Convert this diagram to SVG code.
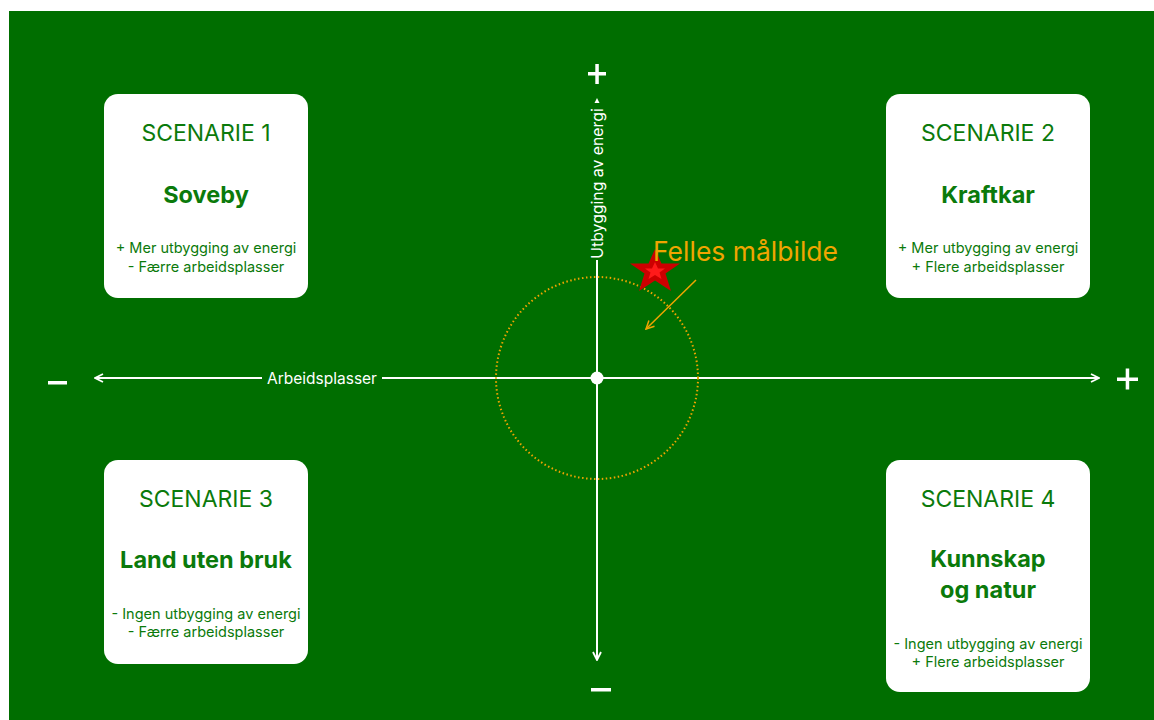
<svg xmlns="http://www.w3.org/2000/svg" width="1154" height="720" viewBox="0 0 1154 720">
<defs>
<style>
.box{fill:#ffffff;}
.t1{font-family:Inter,"Liberation Sans",sans-serif;font-size:23px;fill:#0b7a0b;text-anchor:middle;}
.t2{font-family:Inter,"Liberation Sans",sans-serif;font-size:23.5px;font-weight:bold;fill:#0b7a0b;text-anchor:middle;}
.t3{font-family:Inter,"Liberation Sans",sans-serif;font-size:14.5px;fill:#0b7a0b;text-anchor:middle;}
.ax{stroke:#ffffff;stroke-width:2;fill:none;}
.sign{fill:#ffffff;}
.lbl{font-family:Inter,"Liberation Sans",sans-serif;font-size:15.5px;fill:#ffffff;}
</style>
<marker id="ah" viewBox="0 0 10 10" refX="9" refY="5" markerWidth="10" markerHeight="10" markerUnits="userSpaceOnUse" orient="auto">
<path d="M1,1 L9,5 L1,9" fill="none" stroke="#ffffff" stroke-width="1.8"/>
</marker>
<marker id="oh" viewBox="0 0 10 10" refX="9" refY="5" markerWidth="10" markerHeight="10" markerUnits="userSpaceOnUse" orient="auto">
<path d="M1,1 L9,5 L1,9" fill="none" stroke="#f0a500" stroke-width="1.5"/>
</marker>
</defs>
<rect x="0" y="0" width="1154" height="720" fill="#ffffff"/>
<rect x="9" y="11" width="1145" height="709" fill="#006e00"/>

<g id="connectors">
<line class="ax" x1="380" y1="378" x2="95" y2="378" marker-end="url(#ah)"/>
<line class="ax" x1="381" y1="378" x2="1099" y2="378" marker-end="url(#ah)"/>
<line class="ax" x1="597" y1="260" x2="597" y2="660" marker-end="url(#ah)"/>
<path d="M597,98 L599.5,103 L594.5,103 Z" fill="#ffffff"/>
<circle cx="597" cy="378" r="101" fill="none" stroke="#f0a500" stroke-width="2" stroke-dasharray="1.5,2.5"/>
<line x1="696" y1="280" x2="646" y2="329" stroke="#f0a500" stroke-width="1.5" marker-end="url(#oh)"/>
</g>

<g id="axis-labels">
<rect x="262" y="368" width="120" height="20" fill="#006e00"/>
<text class="lbl" x="322" y="383.5" text-anchor="middle">Arbeidsplasser</text>
<text class="lbl" transform="translate(603,183.5) rotate(-90)" text-anchor="middle" style="font-size:15.8px">Utbygging av energi</text>
<rect x="588" y="72" width="18" height="3.5" class="sign"/>
<rect x="595.3" y="64" width="3.5" height="20" class="sign"/>
<rect x="591" y="688" width="20" height="3.5" class="sign"/>
<rect x="48" y="381" width="19" height="3.5" class="sign"/>
<rect x="1117" y="377.5" width="21" height="3.5" class="sign"/>
<rect x="1125.7" y="368.5" width="3.5" height="21" class="sign"/>
<circle cx="597" cy="378" r="6.5" fill="#ffffff"/>
</g>

<g id="target">
<polygon points="655,249 661.5,263.5 680,263.5 665.5,273.5 671,291 655,280.5 639,291 644.5,273.5 630,263.5 648.5,263.5" fill="#cc0000"/>
<polygon points="655,262 658,268.5 665,268.5 659.5,272.5 661.5,279 655,275 648.5,279 650.5,272.5 645,268.5 652,268.5" fill="#ff1a1a"/>
<text x="653" y="261" font-family="Inter,'Liberation Sans',sans-serif" font-size="26.5" fill="#f0a500">Felles målbilde</text>
</g>

<g id="scenario1">
<rect class="box" x="104" y="94" width="204" height="204" rx="14"/>
<text class="t1" x="206" y="141">SCENARIE 1</text>
<text class="t2" x="206" y="203">Soveby</text>
<text class="t3" x="206" y="253">+ Mer utbygging av energi</text>
<text class="t3" x="206" y="272">- Færre arbeidsplasser</text>
</g>

<g id="scenario2">
<rect class="box" x="886" y="94" width="204" height="204" rx="14"/>
<text class="t1" x="988" y="141">SCENARIE 2</text>
<text class="t2" x="988" y="203">Kraftkar</text>
<text class="t3" x="988" y="253">+ Mer utbygging av energi</text>
<text class="t3" x="988" y="272">+ Flere arbeidsplasser</text>
</g>

<g id="scenario3">
<rect class="box" x="104" y="460" width="204" height="204" rx="14"/>
<text class="t1" x="206" y="507">SCENARIE 3</text>
<text class="t2" x="206" y="568">Land uten bruk</text>
<text class="t3" x="206" y="619">- Ingen utbygging av energi</text>
<text class="t3" x="206" y="637">- Færre arbeidsplasser</text>
</g>

<g id="scenario4">
<rect class="box" x="886" y="460" width="204" height="232" rx="14"/>
<text class="t1" x="988" y="507">SCENARIE 4</text>
<text class="t2" x="988" y="567">Kunnskap</text>
<text class="t2" x="988" y="598">og natur</text>
<text class="t3" x="988" y="649">- Ingen utbygging av energi</text>
<text class="t3" x="988" y="667">+ Flere arbeidsplasser</text>
</g>
</svg>
